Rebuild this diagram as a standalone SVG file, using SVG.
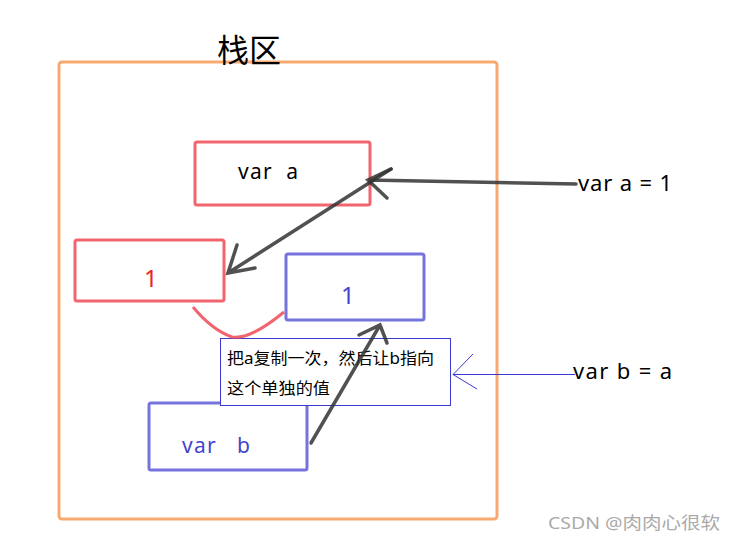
<svg xmlns="http://www.w3.org/2000/svg" width="735" height="541" viewBox="0 0 735 541">
<style>
.t{font-family:"Noto Sans","Noto Sans CJK SC",sans-serif}
.red{fill:none;stroke:#ee4a55;stroke-width:3;stroke-opacity:0.85}
.blue{fill:none;stroke:#5c5cd6;stroke-width:3;stroke-opacity:0.85}
.blk{fill:none;stroke:#333;stroke-width:3.5;stroke-opacity:0.85;stroke-linecap:round}
</style>
<rect width="735" height="541" fill="#fff"/>
<g id="stack">
<rect x="59" y="62" width="438" height="457" rx="3" fill="none" stroke="#f7a060" stroke-width="3" stroke-opacity="0.9"/>
<text class="t" x="217" y="62" font-size="32" fill="#000">栈区</text>
</g>
<g id="var-a">
<rect x="195" y="142" width="175" height="63" rx="2" class="red"/>
<text class="t" x="238" y="179" font-size="21" fill="#000" xml:space="preserve" textLength="60" lengthAdjust="spacing">var  a</text>
</g>
<g id="value-a">
<rect x="75" y="240" width="149" height="61" rx="2" class="red"/>
<text class="t" x="144" y="287" font-size="24" fill="#ee2222">1</text>
</g>
<g id="value-b">
<rect x="286" y="254" width="138" height="66" rx="2" class="blue"/>
<text class="t" x="341" y="304" font-size="24" fill="#4444cc">1</text>
</g>
<g id="var-b">
<rect x="149" y="403" width="158" height="67" rx="2" class="blue"/>
<text class="t" x="182" y="453" font-size="21" fill="#4444cc" xml:space="preserve" textLength="68" lengthAdjust="spacing">var   b</text>
</g>
<g id="note">
<rect x="220.5" y="338.5" width="230" height="67" fill="#fff" stroke="#3a3ad0" stroke-width="1"/>
<text class="t" x="227" y="364" font-size="16" fill="#000" textLength="207" lengthAdjust="spacingAndGlyphs">把a复制一次，然后让b指向</text>
<text class="t" x="227" y="394" font-size="16" fill="#000" textLength="103" lengthAdjust="spacingAndGlyphs">这个单独的值</text>
</g>
<g id="label-a">
<text class="t" x="578" y="191" font-size="22" fill="#000" textLength="94" lengthAdjust="spacing">var a = 1</text>
</g>
<g id="label-b">
<text class="t" x="573" y="379" font-size="22" fill="#000" textLength="99" lengthAdjust="spacing">var b = a</text>
</g>
<g id="connectors">
<path class="red" d="M193,307 Q212,330 232,337 Q250,340 284,312"/>
<path class="blk" d="M576,184 L368,180 M391,169 L368,180 L387,198"/>
<path class="blk" d="M391,169 L228,273 M237,245 L228,273 L255,268"/>
<path class="blk" d="M311,443 L380,325 M359,335 L380,325 L387,343"/>
<path d="M575,374.5 L453,374.5 M473,354 L453,374.5 L477,389" fill="none" stroke="#3a3ad0" stroke-width="1"/>
</g>
<text class="t" x="548" y="529" font-size="17" fill="#aaa" textLength="172" lengthAdjust="spacingAndGlyphs">CSDN @肉肉心很软</text>
</svg>
